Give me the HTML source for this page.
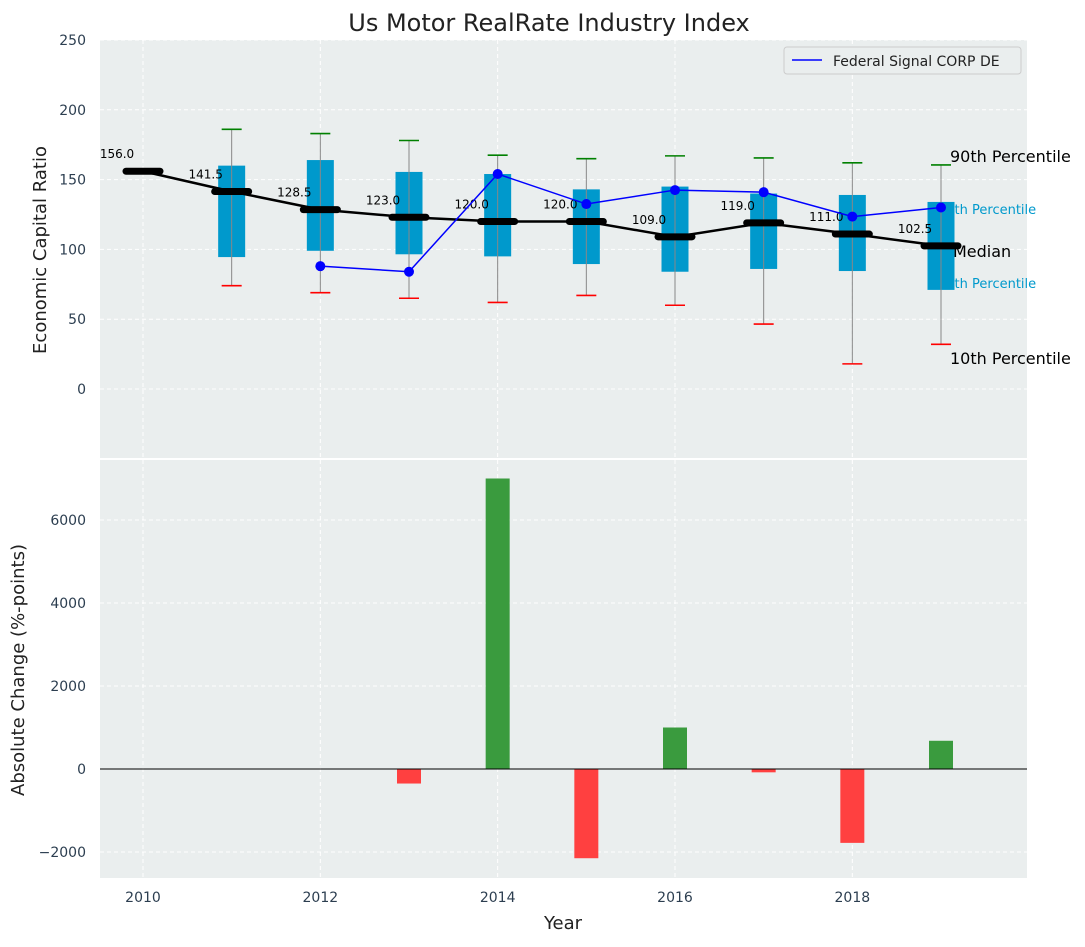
<!DOCTYPE html>
<html><head><meta charset="utf-8"><style>
body{margin:0;background:#fff;font-family:"Liberation Sans","DejaVu Sans",sans-serif}
svg text{font-family:"DejaVu Sans","Liberation Sans",sans-serif}
</style></head><body>
<svg id="c" width="1085" height="942"></svg>
<script>
const years=[2010,2011,2012,2013,2014,2015,2016,2017,2018,2019];
const medians=[156,141.5,128.5,123,120,120,109,119,111,102.5];
const q1=[null,94.5,99,96.5,95,89.5,84,86,84.5,71];
const q3=[null,160,164,155.5,154,143,145,140,139,134];
const p10=[null,74,69,65,62,67,60,46.5,18,32];
const p90=[null,186,183,178,167.5,165,167,165.5,162,160.5];
const companyYears=[2012,2013,2014,2015,2016,2017,2018,2019];
const companyVals=[88,84,154,132.5,142.5,141,123.5,130];
const barYears=[2013,2014,2015,2016,2017,2018,2019];
const barVals=[-350,7000,-2150,1000,-80,-1780,680];
const yTicksTop=[0,50,100,150,200,250];
const yTicksBot=[-2000,0,2000,4000,6000];
const xTicks=[2010,2012,2014,2016,2018];

const NS="http://www.w3.org/2000/svg";const svg=document.getElementById('c');
function el(t,a,p){const e=document.createElementNS(NS,t);for(const k in a)e.setAttribute(k,a[k]);(p||svg).appendChild(e);return e;}
const L=100,R=1027;
const x=v=>143+(v-2010)*(941-143)/9;
const yT=v=>389-v*1.396;
const yB=v=>769-v*(249/6000);
const bg='#eaeeee';
let a=el('rect',{x:L,y:40,width:R-L,height:418,fill:bg});

a=el('rect',{x:L,y:460,width:R-L,height:418,fill:bg});

xTicks.forEach(v=>{
 el('line',{x1:x(v),x2:x(v),y1:40,y2:458,stroke:'#fff','stroke-dasharray':'4,3','stroke-width':1});
 el('line',{x1:x(v),x2:x(v),y1:460,y2:878,stroke:'#fff','stroke-dasharray':'4,3','stroke-width':1});
 let t=el('text',{x:x(v),y:902,'text-anchor':'middle','font-size':14,fill:'#2c3e50'});t.textContent=v;
 
});
yTicksTop.forEach(v=>{
 el('line',{x1:L,x2:R,y1:yT(v),y2:yT(v),stroke:'#fff','stroke-dasharray':'4,3'});
 let t=el('text',{x:86,y:yT(v)+5,'text-anchor':'end','font-size':14,fill:'#2c3e50'});t.textContent=v;
 
});
yTicksBot.forEach(v=>{
 el('line',{x1:L,x2:R,y1:yB(v),y2:yB(v),stroke:'#fff','stroke-dasharray':'4,3'});
 let t=el('text',{x:86,y:yB(v)+5,'text-anchor':'end','font-size':14,fill:'#2c3e50'});t.textContent=(v<0?'\u2212'+(-v):v);
 
});
const ann=[['90th Percentile',157,'#000',16,950],['75th Percentile',214,'#0099cc',13,938],['Median',252,'#000',16,953],['25th Percentile',288,'#0099cc',13,938],['10th Percentile',359,'#000',16,950]];
ann.forEach(s=>{let t=el('text',{x:s[4],y:s[1]+(s[3]==16?5:0),'font-size':s[3],fill:s[2]});t.textContent=s[0];
 });
years.forEach((yr,i)=>{
 if(q1[i]==null)return;
 const cx=x(yr),hw=13.5;
 let r=el('rect',{x:cx-hw,y:yT(q3[i]),width:2*hw,height:yT(q1[i])-yT(q3[i]),fill:'#0099cc'});
 
 el('line',{x1:cx,x2:cx,y1:yT(p90[i]),y2:yT(p10[i]),stroke:'#888','stroke-width':1});
 el('line',{x1:cx-10,x2:cx+10,y1:yT(p90[i]),y2:yT(p90[i]),stroke:'green','stroke-width':1.6});
 el('line',{x1:cx-10,x2:cx+10,y1:yT(p10[i]),y2:yT(p10[i]),stroke:'red','stroke-width':1.6});
});
let ml=el('polyline',{points:years.map((y,i)=>x(y)+','+yT(medians[i])).join(' '),fill:'none',stroke:'#000','stroke-width':2.5});

years.forEach((yr,i)=>{
 let m=el('line',{x1:x(yr)-17,x2:x(yr)+17,y1:yT(medians[i]),y2:yT(medians[i]),stroke:'#000','stroke-width':7,'stroke-linecap':'round'});
 
 let t=el('text',{x:x(yr)-26,y:yT(medians[i])-13,'text-anchor':'middle','font-size':12,fill:'#000'});t.textContent=medians[i].toFixed(1);
 
});
let cl=el('polyline',{points:companyYears.map((y,i)=>x(y)+','+yT(companyVals[i])).join(' '),fill:'none',stroke:'blue','stroke-width':1.5});

companyYears.forEach((yr,i)=>{let c=el('circle',{cx:x(yr),cy:yT(companyVals[i]),r:5,fill:'blue'});
 });
let lg=el('g',{});
el('rect',{x:784,y:47,width:237,height:27,fill:'#eaeeee',stroke:'#ccc',rx:3},lg);
el('line',{x1:792,x2:822,y1:60,y2:60,stroke:'blue','stroke-width':1.5},lg);
let lt=el('text',{x:833,y:66,'font-size':14,fill:'#222'},lg);lt.textContent='Federal Signal CORP DE';
barYears.forEach((yr,i)=>{const v=barVals[i];
 let b=el('rect',{x:x(yr)-12,y:Math.min(yB(v),yB(0)),width:24,height:Math.abs(yB(v)-yB(0)),fill:v>=0?'#3a9b3e':'#ff4040'});
 });
el('line',{x1:L,x2:R,y1:yB(0),y2:yB(0),stroke:'#000','stroke-width':1});
let t=el('text',{x:549,y:31,'text-anchor':'middle','font-size':24,fill:'#222'});t.textContent='Us Motor RealRate Industry Index';

t=el('text',{x:0,y:0,'text-anchor':'middle','font-size':18,fill:'#222',transform:'translate(46,250) rotate(-90)'});t.textContent='Economic Capital Ratio';

t=el('text',{x:0,y:0,'text-anchor':'middle','font-size':18,fill:'#222',transform:'translate(24,670) rotate(-90)'});t.textContent='Absolute Change (%-points)';

t=el('text',{x:563,y:929,'text-anchor':'middle','font-size':18,fill:'#222'});t.textContent='Year';

</script>
</body></html>
